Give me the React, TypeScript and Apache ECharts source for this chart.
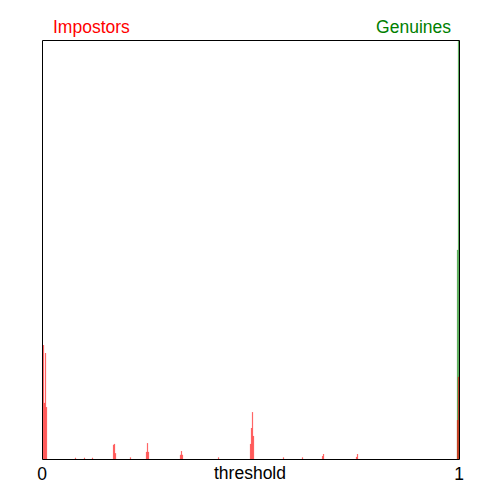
import React, { useEffect, useRef } from "react";
import * as echarts from "echarts";

// threshold positions (bin centres) and density values
const impostorX = [
  0.0036, 0.006, 0.0084, 0.0108, 0.0803, 0.1019, 0.1211, 0.1715, 0.1739, 0.1763,
  0.2122, 0.2506, 0.253, 0.2554, 0.3321, 0.3345, 0.3369, 0.4233, 0.5, 0.5024,
  0.5048, 0.5072, 0.5791, 0.6247, 0.6727, 0.6751, 0.7542, 0.7566, 0.9964, 0.9988,
];
const impostorY = [
  27.2, 13.4, 25.3, 12.4, 0.3, 0.3, 0.3, 3.4, 3.6, 1.4,
  0.4, 1.7, 3.8, 1.7, 1.0, 1.9, 1.0, 0.4, 3.6, 7.4,
  11.2, 5.5, 0.4, 0.4, 0.7, 1.2, 0.5, 1.2, 9.3, 19.6,
];
const genuineX = [0.9964, 0.9988];
const genuineY = [49.9, 100];

const xTicks = ["0", "1"];
const FONT = "Liberation Sans, Arial, sans-serif";

export default function App() {
  const ref = useRef<HTMLDivElement>(null);
  useEffect(() => {
    if (!ref.current) return;
    const chart = echarts.init(ref.current, null, { renderer: "svg" });
    chart.setOption({
      animation: false,
      backgroundColor: "#ffffff",
      grid: {
        left: 42,
        right: 41,
        top: 40,
        bottom: 41,
        containLabel: false,
        outerBoundsMode: "none",
        show: false,
      },
      xAxis: {
        type: "value",
        min: 0,
        max: 1,
        interval: 1,
        axisLine: { show: false },
        axisTick: { show: false },
        splitLine: { show: false },
        axisLabel: {
          color: "#000",
          fontSize: 17.5,
          fontFamily: FONT,
          margin: 6,
          formatter: (v: number) => (v === 0 ? xTicks[0] : v === 1 ? xTicks[1] : ""),
        },
      },
      yAxis: {
        type: "value",
        min: 0,
        max: 100,
        show: false,
        splitLine: { show: false },
      },
      graphic: [
        {
          type: "rect",
          silent: true,
          z: 100,
          shape: { x: 42.5, y: 40.5, width: 417, height: 419 },
          style: { fill: "none", stroke: "#000", lineWidth: 1 },
        },
        {
          type: "text",
          x: 53,
          y: 27,
          style: {
            text: "Impostors",
            fill: "#ff0000",
            font: `17.5px ${FONT}`,
            verticalAlign: "middle",
            align: "left",
          },
        },
        {
          type: "text",
          x: 451,
          y: 27,
          style: {
            text: "Genuines",
            fill: "#008000",
            font: `17.5px ${FONT}`,
            verticalAlign: "middle",
            align: "right",
          },
        },
        {
          type: "text",
          x: 250,
          y: 473,
          style: {
            text: "threshold",
            fill: "#000",
            font: `17.5px ${FONT}`,
            verticalAlign: "middle",
            align: "center",
          },
        },
      ],
      series: [
        {
          name: "Genuines",
          type: "bar",
          barWidth: 1.2,
          barGap: "-100%",
          itemStyle: { color: "rgba(0,128,0,0.6)" },
          data: genuineX.map((x, i) => [x, genuineY[i]]),
        },
        {
          name: "Impostors",
          type: "bar",
          barWidth: 1.2,
          barGap: "-100%",
          itemStyle: { color: "rgba(255,0,0,0.6)" },
          data: impostorX.map((x, i) => [x, impostorY[i]]),
        },
      ],
    });
    return () => chart.dispose();
  }, []);
  return <div ref={ref} style={{ width: 500, height: 500, position: "absolute", left: 0, top: 0 }} />;
}
